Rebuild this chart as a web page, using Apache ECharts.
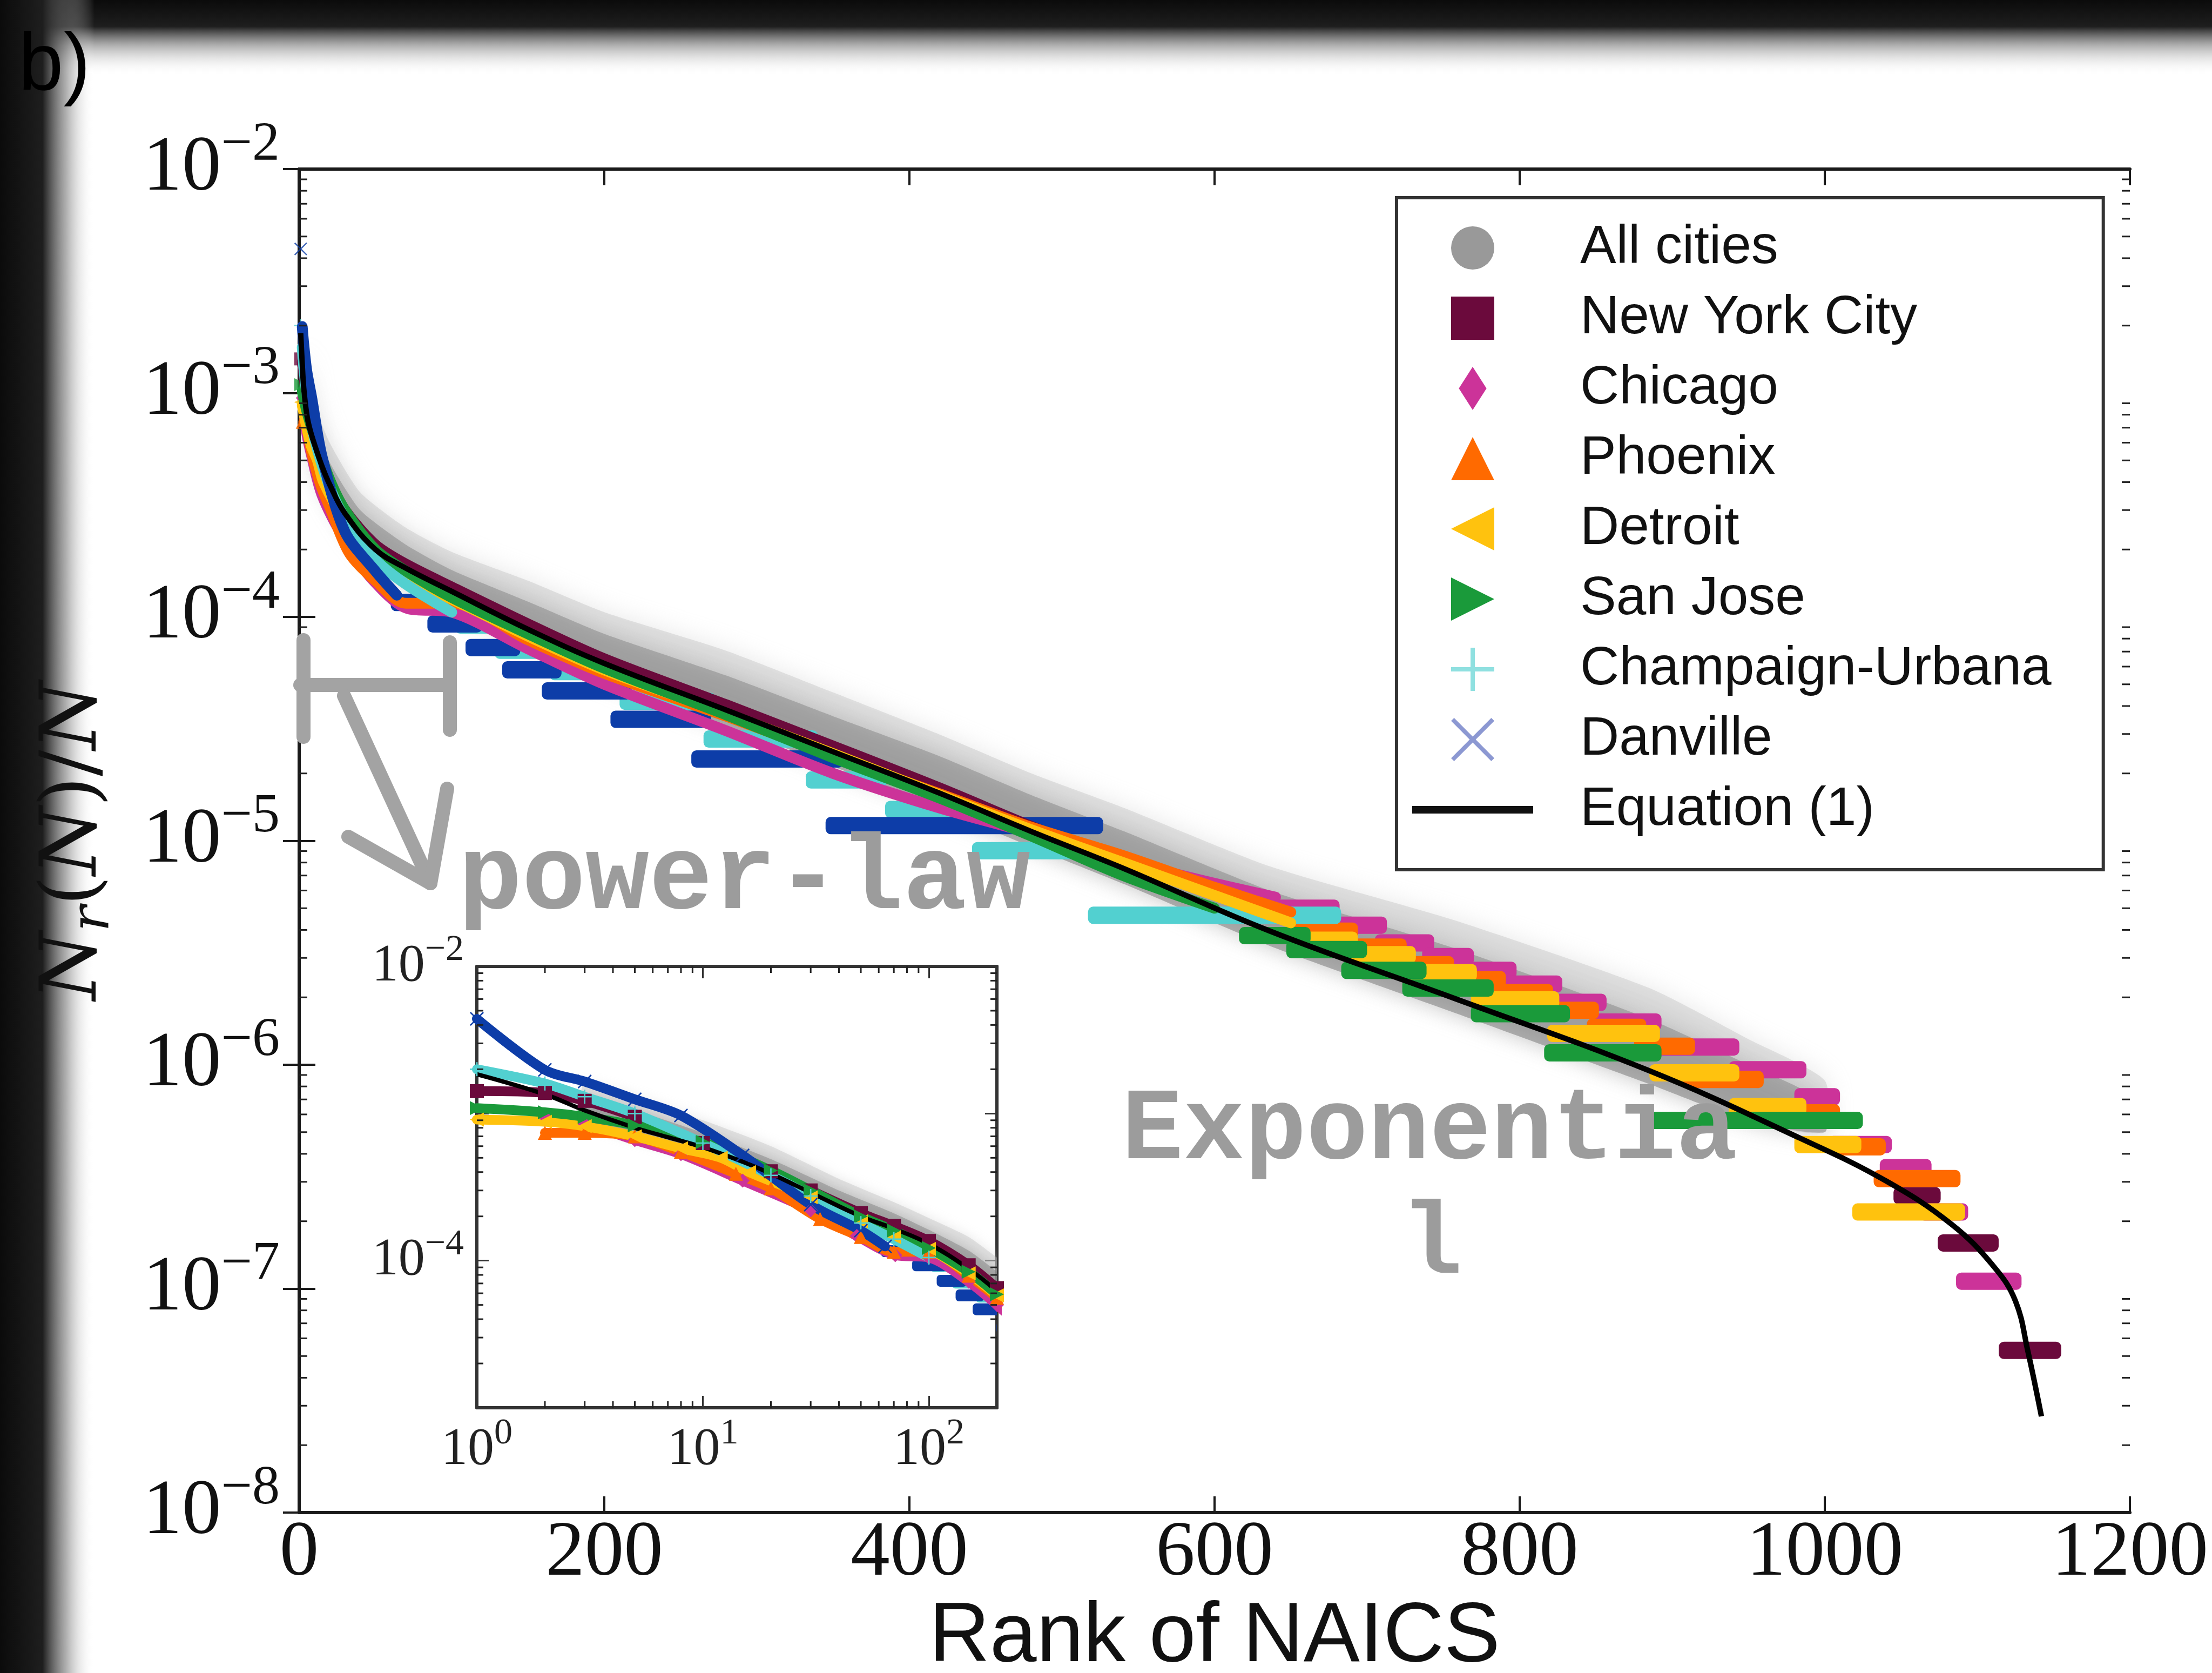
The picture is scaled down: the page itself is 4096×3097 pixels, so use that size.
<!DOCTYPE html>
<html>
<head>
<meta charset="utf-8">
<script src="https://cdn.jsdelivr.net/npm/echarts@6/dist/echarts.min.js"></script>
<style>
  html, body { margin: 0; padding: 0; background: #fff; }
  #chart { width: 4096px; height: 3097px; }
</style>
</head>
<body>
<div id="chart"></div>
<script>
// Equation (1)
var eqRank = [1, 2, 3, 5, 7, 10, 15, 20, 30, 50, 70, 100, 150, 200, 279, 350, 419, 480, 541, 636, 758, 885, 984, 1040, 1083, 1111, 1125, 1133, 1142];
var eqValue = [1.85e-3, 1.35e-3, 1.05e-3, 8.0e-4, 6.9e-4, 5.9e-4, 4.7e-4, 3.9e-4, 2.9e-4, 2.0e-4, 1.65e-4, 1.3e-4, 8.8e-5, 6.2e-5, 3.86e-5, 2.5e-5, 1.64e-5, 1.1e-5, 7.5e-6, 3.96e-6, 1.97e-6, 9.4e-7, 4.69e-7, 3.03e-7, 1.94e-7, 1.25e-7, 8.8e-8, 5.3e-8, 2.69e-8];

// "All cities" grey cloud: upper edge, dense core, lower edge
var cloudRank = [3, 10, 20, 40, 70, 100, 150, 200, 279, 350, 419, 480, 541, 636, 758, 885, 950, 1000];
var cloudHigh = [1.6e-3, 9.0e-4, 6.0e-4, 3.6e-4, 2.5e-4, 1.95e-4, 1.45e-4, 1.05e-4, 7.1e-5, 4.6e-5, 3.0e-5, 2.0e-5, 1.4e-5, 7.7e-6, 4.4e-6, 2.2e-6, 1.3e-6, 8.5e-7];
var cloudCore = [1.3e-3, 7.4e-4, 4.9e-4, 3.0e-4, 2.1e-4, 1.62e-4, 1.17e-4, 8.4e-5, 5.5e-5, 3.6e-5, 2.4e-5, 1.6e-5, 1.1e-5, 6.0e-6, 3.3e-6, 1.6e-6, 1.0e-6, 6.8e-7];
var cloudLow = [9.0e-4, 5.0e-4, 3.4e-4, 2.1e-4, 1.4e-4, 1.1e-4, 7.6e-5, 5.3e-5, 3.3e-5, 2.15e-5, 1.4e-5, 9.4e-6, 6.4e-6, 3.4e-6, 1.7e-6, 8.2e-7, 5.6e-7, 5.0e-7];

// each city: head (rank, value) where the value changes at nearly every rank, then runs [firstRank, lastRank, value]
var nycHeadRank = [1, 2, 3, 5, 10, 20, 30, 50, 70, 100, 150, 200, 280, 350, 420, 480, 540, 600];
var nycHeadValue = [1.42e-3, 1.38e-3, 1.22e-3, 9.5e-4, 6.3e-4, 4.05e-4, 3.0e-4, 2.1e-4, 1.72e-4, 1.36e-4, 9.3e-5, 6.5e-5, 4.05e-5, 2.65e-5, 1.72e-5, 1.16e-5, 8.0e-6, 5.8e-6];
var nycRuns = [[1049, 1072, 2.6e-7], [1078, 1110, 1.6e-7], [1118, 1151, 5.3e-8]];

var chicagoHeadRank = [2, 3, 5, 8, 15, 30, 48, 71, 100, 150, 200, 280, 350, 420, 480, 540, 590, 640];
var chicagoHeadValue = [9.5e-4, 8.5e-4, 6.6e-4, 5.3e-4, 3.5e-4, 2.2e-4, 1.47e-4, 1.09e-4, 1.05e-4, 7.2e-5, 5.0e-5, 3.1e-5, 2.0e-5, 1.4e-5, 1.08e-5, 8.2e-6, 6.7e-6, 5.6e-6];
var chicagoRuns = [[641, 678, 5.0e-6], [679, 709, 4.2e-6], [709, 740, 3.5e-6], [740, 766, 3.04e-6], [766, 794, 2.64e-6], [794, 824, 2.29e-6], [824, 853, 1.9e-6], [853, 889, 1.55e-6], [889, 940, 1.2e-6], [941, 984, 9.5e-7], [984, 1006, 7.2e-7], [1006, 1040, 4.4e-7], [1040, 1066, 3.47e-7], [1066, 1090, 2.2e-7], [1090, 1125, 1.08e-7]];

var phoenixHeadRank = [2, 3, 5, 8, 14, 20, 33, 50, 70, 100, 150, 200, 280, 350, 420, 480, 540, 600, 650];
var phoenixHeadValue = [7.4e-4, 7.4e-4, 7.0e-4, 5.5e-4, 3.9e-4, 3.1e-4, 1.92e-4, 1.45e-4, 1.15e-4, 1.15e-4, 7.9e-5, 5.6e-5, 3.6e-5, 2.4e-5, 1.62e-5, 1.15e-5, 8.6e-6, 6.2e-6, 4.8e-6];
var phoenixRuns = [[652, 690, 3.95e-6], [692, 722, 3.35e-6], [724, 753, 2.8e-6], [755, 787, 2.4e-6], [787, 818, 2.1e-6], [818, 848, 1.75e-6], [848, 879, 1.47e-6], [879, 911, 1.21e-6], [911, 956, 8.6e-7], [956, 1006, 6.1e-7], [1010, 1036, 4.3e-7], [1036, 1085, 3.1e-7]];

var detroitHeadRank = [1, 2, 3, 5, 8, 12, 16, 30, 50, 70, 100, 150, 200, 280, 350, 420, 480, 540, 600, 650];
var detroitHeadValue = [9.1e-4, 8.8e-4, 8.2e-4, 7.0e-4, 5.8e-4, 5.0e-4, 4.0e-4, 2.7e-4, 1.85e-4, 1.45e-4, 1.2e-4, 8.2e-5, 5.8e-5, 3.7e-5, 2.45e-5, 1.6e-5, 1.12e-5, 8.0e-6, 5.7e-6, 4.3e-6];
var detroitRuns = [[655, 690, 3.6e-6], [690, 728, 3.1e-6], [728, 768, 2.58e-6], [772, 822, 1.95e-6], [822, 888, 1.38e-6], [889, 940, 9.2e-7], [941, 984, 6.5e-7], [984, 1020, 4.4e-7], [1022, 1088, 2.2e-7]];

var sanJoseHeadRank = [1, 2, 3, 5, 10, 20, 30, 50, 70, 100, 150, 200, 280, 350, 420, 480, 540, 600];
var sanJoseHeadValue = [1.09e-3, 1.02e-3, 9.5e-4, 8.3e-4, 6.4e-4, 4.1e-4, 3.0e-4, 2.0e-4, 1.6e-4, 1.22e-4, 8.4e-5, 5.9e-5, 3.65e-5, 2.35e-5, 1.55e-5, 1.05e-5, 7.0e-6, 5.0e-6];
var sanJoseRuns = [[620, 659, 3.77e-6], [651, 696, 3.27e-6], [687, 735, 2.64e-6], [727, 779, 2.2e-6], [772, 829, 1.69e-6], [820, 889, 1.13e-6], [887, 1021, 5.64e-7]];

var champaignHeadRank = [1, 2, 3, 5, 10, 20, 30, 50, 70, 100];
var champaignHeadValue = [2.0e-3, 1.6e-3, 1.3e-3, 1.0e-3, 6.3e-4, 3.8e-4, 2.75e-4, 1.8e-4, 1.4e-4, 1.05e-4];
var champaignRuns = [[106, 134, 9.2e-5], [132, 166, 7.1e-5], [168, 214, 5.7e-5], [214, 269, 4.2e-5], [269, 336, 2.85e-5], [336, 381, 1.87e-5], [388, 447, 1.38e-5], [445, 523, 9.04e-6], [521, 679, 4.65e-6]];

var danvilleHeadRank = [1, 2, 3, 5, 8, 15, 30, 50, 64];
var danvilleHeadValue = [4.4e-3, 1.98e-3, 1.65e-3, 1.25e-3, 9.7e-4, 5.2e-4, 2.4e-4, 1.6e-4, 1.25e-4];
var danvilleRuns = [[64, 92, 1.16e-4], [88, 116, 9.3e-5], [113, 141, 7.3e-5], [137, 168, 5.8e-5], [163, 214, 4.67e-5], [208, 266, 3.49e-5], [261, 353, 2.32e-5], [349, 523, 1.17e-5]];

// ---- styling ----
var SQUARE = 'path://M0,0H100V100H0Z';
var TRIANGLE = 'path://M50,0L100,100L0,100Z';
var LEFT_TRI = 'path://M0,50L100,0L100,100Z';
var RIGHT_TRI = 'path://M0,0L100,50L0,100Z';
var PLUS = 'path://M45,0H55V45H100V55H55V100H45V55H0V45H45Z';
var CROSS = 'path://M0,7L7,0L50,43L93,0L100,7L57,50L100,93L93,100L50,57L7,100L0,93L43,50Z';
var DIAMOND = 'path://M32,0L64,50L32,100L0,50Z';

var cities = [
  { name: 'New York City', color: '#6b0a3c', symbol: SQUARE, head: [nycHeadRank, nycHeadValue], runs: nycRuns },
  { name: 'Chicago', color: '#cc3399', symbol: DIAMOND, head: [chicagoHeadRank, chicagoHeadValue], runs: chicagoRuns },
  { name: 'Phoenix', color: '#ff6a00', symbol: TRIANGLE, head: [phoenixHeadRank, phoenixHeadValue], runs: phoenixRuns },
  { name: 'Detroit', color: '#ffc20e', symbol: LEFT_TRI, head: [detroitHeadRank, detroitHeadValue], runs: detroitRuns },
  { name: 'San Jose', color: '#1a9a3a', symbol: RIGHT_TRI, head: [sanJoseHeadRank, sanJoseHeadValue], runs: sanJoseRuns },
  { name: 'Champaign-Urbana', color: '#52d0d0', symbol: PLUS, head: [champaignHeadRank, champaignHeadValue], runs: champaignRuns, inInset: true },
  { name: 'Danville', color: '#0d3da8', symbol: CROSS, head: [danvilleHeadRank, danvilleHeadValue], runs: danvilleRuns, inInset: true }
];

function pairs(r, v) {
  return r.map(function (x, i) { return [x, v[i]]; });
}

function powLabel(v) {
  var l = Math.log10(v);
  var e = Math.round(l);
  if (Math.abs(l - e) > 1e-6) return '';
  return '{b|10}{s|' + (e < 0 ? '\u2212' + (-e) : e) + '}';
}

function runItem(h) {
  return function (params, api) {
    var a = api.coord([api.value(0), api.value(2)]);
    var b = api.coord([api.value(1), api.value(2)]);
    return {
      type: 'rect',
      shape: { x: a[0] - h * 0.35, y: a[1] - h / 2, width: Math.max(b[0] - a[0], 0) + h * 0.7, height: h, r: h * 0.3 },
      style: { fill: api.visual('color') }
    };
  };
}

function cloudItem(blur) {
  return function (params, api) {
    if (params.dataIndex !== 0) return null;
    function band(hi, lo) {
      var pts = [];
      for (var i = 0; i < cloudRank.length; i++) pts.push(api.coord([cloudRank[i], hi[i]]));
      for (var j = cloudRank.length - 1; j >= 0; j--) pts.push(api.coord([cloudRank[j], lo[j]]));
      return pts;
    }
    return {
      type: 'group',
      children: [
        { type: 'polygon', shape: { points: band(cloudHigh, cloudLow), smooth: 0.2 },
          style: { fill: 'rgba(190,190,190,0.4)', shadowBlur: blur, shadowColor: 'rgba(190,190,190,0.9)' } },
        { type: 'polygon', shape: { points: band(cloudCore, cloudLow), smooth: 0.2 },
          style: { fill: 'rgba(125,125,125,0.45)', shadowBlur: blur * 0.8, shadowColor: 'rgba(125,125,125,0.7)' } }
      ]
    };
  };
}

function yMinorItem(len) {
  return function (params, api) {
    var cs = params.coordSys;
    var p = api.coord([api.value(0), api.value(1)]);
    var st = { stroke: '#222', lineWidth: 3 };
    return { type: 'group', children: [
      { type: 'line', shape: { x1: cs.x, y1: p[1], x2: cs.x + len, y2: p[1] }, style: st },
      { type: 'line', shape: { x1: cs.x + cs.width, y1: p[1], x2: cs.x + cs.width - len, y2: p[1] }, style: st }
    ] };
  };
}

function xMinorItem(len) {
  return function (params, api) {
    var cs = params.coordSys;
    var p = api.coord([api.value(0), api.value(1)]);
    var st = { stroke: '#222', lineWidth: 3 };
    return { type: 'group', children: [
      { type: 'line', shape: { x1: p[0], y1: cs.y + cs.height, x2: p[0], y2: cs.y + cs.height - len }, style: st },
      { type: 'line', shape: { x1: p[0], y1: cs.y, x2: p[0], y2: cs.y + len }, style: st }
    ] };
  };
}

// minor tick positions of the log axes (2..9 times each decade)
var mainYMinor = [], insetYMinor = [], insetXMinor = [];
for (var e = -8; e < -2; e++) for (var m = 2; m < 10; m++) mainYMinor.push([0, m * Math.pow(10, e)]);
for (var e2 = -5; e2 < -2; e2++) for (var m2 = 2; m2 < 10; m2++) insetYMinor.push([1, m2 * Math.pow(10, e2)]);
for (var e3 = 0; e3 < 2; e3++) for (var m3 = 2; m3 < 10; m3++) insetXMinor.push([m3 * Math.pow(10, e3), 1e-5]);

var serif = 'Liberation Serif';
var mainRich = {
  b: { fontFamily: serif, fontSize: 145, lineHeight: 190, color: '#111' },
  s: { fontFamily: serif, fontSize: 102, lineHeight: 102, verticalAlign: 'top', color: '#111' }
};
var insetRich = {
  b: { fontFamily: serif, fontSize: 98, lineHeight: 128, color: '#222' },
  s: { fontFamily: serif, fontSize: 68, lineHeight: 68, verticalAlign: 'top', color: '#222' }
};

var axisLine = { show: true, lineStyle: { color: '#1a1a1a', width: 6 } };
var majorTick = { show: true, inside: true, length: 30, lineStyle: { color: '#1a1a1a', width: 4 } };
var insetLine = { show: true, lineStyle: { color: '#333', width: 6 } };
var insetTick = { show: true, inside: true, length: 22, lineStyle: { color: '#333', width: 3 } };

var series = [];

series.push({ name: 'All cities', type: 'custom', xAxisIndex: 0, yAxisIndex: 0, clip: true,
  itemStyle: { color: '#9e9e9e' }, renderItem: cloudItem(45),
  data: pairs(cloudRank, cloudHigh), encode: { x: 0, y: 1 } });
series.push({ name: 'All cities', type: 'custom', xAxisIndex: 2, yAxisIndex: 2, clip: true,
  itemStyle: { color: '#9e9e9e' }, renderItem: cloudItem(22),
  data: pairs(cloudRank, cloudHigh), encode: { x: 0, y: 1 } });

cities.forEach(function (c) {
  var head = pairs(c.head[0], c.head[1]);
  series.push({ name: c.name, type: 'custom', xAxisIndex: 0, yAxisIndex: 0, clip: true,
    itemStyle: { color: c.color }, renderItem: runItem(32),
    data: c.runs, encode: { x: [0, 1], y: 2 } });
  // first rank drawn as a lone marker, the rest as a dense band of markers
  series.push({ name: c.name, type: 'scatter', xAxisIndex: 0, yAxisIndex: 0,
    data: head.slice(0, 1), symbol: c.symbol, symbolSize: 24, itemStyle: { color: c.color } });
  series.push({ name: c.name, type: 'line', xAxisIndex: 0, yAxisIndex: 0,
    data: head.slice(1), showSymbol: false, smooth: 0.3,
    itemStyle: { color: c.color }, lineStyle: { color: c.color, width: 20, cap: 'round', join: 'round' } });
  if (c.inInset) {
    series.push({ name: c.name, type: 'custom', xAxisIndex: 2, yAxisIndex: 2, clip: true,
      itemStyle: { color: c.color }, renderItem: runItem(22),
      data: c.runs, encode: { x: [0, 1], y: 2 } });
  }
  series.push({ name: c.name, type: 'line', xAxisIndex: 2, yAxisIndex: 2,
    data: head, showSymbol: true, symbol: c.symbol, symbolSize: 26, smooth: 0.3,
    itemStyle: { color: c.color }, lineStyle: { color: c.color, width: 18, cap: 'round', join: 'round' } });
});

series.push({ name: 'Equation (1)', type: 'line', xAxisIndex: 0, yAxisIndex: 0,
  data: pairs(eqRank, eqValue), showSymbol: false, smooth: 0.4,
  itemStyle: { color: '#000' }, lineStyle: { color: '#000', width: 10 } });
series.push({ name: 'Equation (1)', type: 'line', xAxisIndex: 2, yAxisIndex: 2,
  data: pairs(eqRank, eqValue), showSymbol: false, smooth: 0.4,
  itemStyle: { color: '#000' }, lineStyle: { color: '#000', width: 8 } });

series.push({ name: '_ticks', type: 'custom', xAxisIndex: 0, yAxisIndex: 0, z: 5,
  renderItem: yMinorItem(15), data: mainYMinor, encode: { x: 0, y: 1 } });
series.push({ name: '_ticks', type: 'custom', xAxisIndex: 2, yAxisIndex: 2, z: 5,
  renderItem: yMinorItem(12), data: insetYMinor, encode: { x: 0, y: 1 } });
series.push({ name: '_ticks', type: 'custom', xAxisIndex: 2, yAxisIndex: 2, z: 5,
  renderItem: xMinorItem(12), data: insetXMinor, encode: { x: 0, y: 1 } });

var legendNames = [
  { name: 'All cities', icon: 'circle', itemStyle: { color: '#999999' } },
  { name: 'New York City', icon: SQUARE, itemStyle: { color: '#6b0a3c' } },
  { name: 'Chicago', icon: DIAMOND, itemStyle: { color: '#cc3399' } },
  { name: 'Phoenix', icon: TRIANGLE, itemStyle: { color: '#ff6a00' } },
  { name: 'Detroit', icon: LEFT_TRI, itemStyle: { color: '#ffc20e' } },
  { name: 'San Jose', icon: RIGHT_TRI, itemStyle: { color: '#1a9a3a' } },
  { name: 'Champaign-Urbana', icon: PLUS, itemStyle: { color: '#8fe0e0' } },
  { name: 'Danville', icon: CROSS, itemStyle: { color: '#8c98d2' } },
  { name: 'Equation (1)', icon: 'path://M0,0H224V14H0Z', itemStyle: { color: '#111' } }
];

var gray = '#9c9c9c';
var annStroke = { stroke: '#a3a3a3', lineWidth: 26, lineCap: 'round', lineJoin: 'round' };

var option = {
  backgroundColor: '#ffffff',
  animation: false,
  grid: [
    { left: 554, top: 313, width: 3390, height: 2487, show: false, outerBoundsMode: 'none', containLabel: false },
    { left: 883, top: 1789, width: 963, height: 817, show: true, backgroundColor: '#ffffff', borderWidth: 0, outerBoundsMode: 'none', containLabel: false }
  ],
  xAxis: [
    { gridIndex: 0, type: 'value', min: 0, max: 1200, interval: 200, position: 'bottom',
      axisLine: axisLine, axisTick: majorTick, splitLine: { show: false },
      axisLabel: { fontFamily: serif, fontSize: 145, color: '#111', margin: 4,
        formatter: function (v) { return String(v); } },
      name: 'Rank of NAICS', nameLocation: 'middle', nameGap: 142,
      nameTextStyle: { fontFamily: 'Liberation Sans', fontSize: 156, color: '#111' } },
    { gridIndex: 0, type: 'value', min: 0, max: 1200, interval: 200, position: 'top',
      axisLine: axisLine, axisTick: majorTick, splitLine: { show: false }, axisLabel: { show: false } },
    { gridIndex: 1, type: 'log', min: 1, max: 200, splitNumber: 2, position: 'bottom',
      axisLine: insetLine, axisTick: insetTick, splitLine: { show: false },
      axisLabel: { formatter: powLabel, rich: insetRich, margin: 14 } },
    { gridIndex: 1, type: 'log', min: 1, max: 200, splitNumber: 2, position: 'top',
      axisLine: insetLine, axisTick: insetTick, splitLine: { show: false }, axisLabel: { show: false } }
  ],
  yAxis: [
    { gridIndex: 0, type: 'log', min: 1e-8, max: 1e-2, splitNumber: 6, position: 'left',
      axisLine: axisLine, axisTick: majorTick, splitLine: { show: false },
      axisLabel: { formatter: powLabel, rich: mainRich, margin: 36 },
      name: '{i|N}{r|r}{u|(}{i|N}{u|)/}{i|N}', nameLocation: 'middle', nameGap: 330, nameRotate: 90,
      nameTextStyle: { rich: {
        i: { fontFamily: 'DejaVu Serif', fontStyle: 'italic', fontSize: 145, lineHeight: 170, color: '#111' },
        u: { fontFamily: 'DejaVu Serif', fontSize: 145, lineHeight: 170, color: '#111' },
        r: { fontFamily: 'DejaVu Serif', fontStyle: 'italic', fontSize: 100, lineHeight: 100, verticalAlign: 'bottom', color: '#111' }
      } } },
    { gridIndex: 0, type: 'log', min: 1e-8, max: 1e-2, splitNumber: 6, position: 'right',
      axisLine: axisLine, axisTick: majorTick, splitLine: { show: false }, axisLabel: { show: false } },
    { gridIndex: 1, type: 'log', min: 1e-5, max: 1e-2, splitNumber: 3, position: 'left',
      axisLine: insetLine, axisTick: insetTick, splitLine: { show: false },
      axisLabel: { formatter: function (v) {
        var e = Math.round(Math.log10(v));
        return (e === -2 || e === -4) ? powLabel(v) : '';
      }, rich: insetRich, margin: 24 } },
    { gridIndex: 1, type: 'log', min: 1e-5, max: 1e-2, splitNumber: 3, position: 'right',
      axisLine: insetLine, axisTick: insetTick, splitLine: { show: false }, axisLabel: { show: false } }
  ],
  legend: {
    orient: 'vertical', left: 2586, top: 366,
    padding: [43, 96, 61, 29], itemGap: 30, itemWidth: 224, itemHeight: 80,
    backgroundColor: '#ffffff', borderColor: '#333', borderWidth: 6,
    selectedMode: false,
    textStyle: { fontFamily: 'Liberation Sans', fontSize: 100, color: '#111', padding: [0, 0, 0, 82] },
    data: legendNames
  },
  graphic: [
    { type: 'rect', z: -10, shape: { x: 0, y: 0, width: 4096, height: 140 },
      style: { fill: { type: 'linear', x: 0, y: 0, x2: 0, y2: 1, colorStops: [
        { offset: 0, color: '#0b0b0b' }, { offset: 0.35, color: '#1e1e1e' },
        { offset: 0.6, color: 'rgba(110,110,110,0.55)' }, { offset: 1, color: 'rgba(255,255,255,0)' } ] } } },
    { type: 'rect', z: -10, shape: { x: 0, y: 0, width: 175, height: 3097 },
      style: { fill: { type: 'linear', x: 0, y: 0, x2: 1, y2: 0, colorStops: [
        { offset: 0, color: '#0b0b0b' }, { offset: 0.45, color: '#1e1e1e' },
        { offset: 0.7, color: 'rgba(110,110,110,0.55)' }, { offset: 1, color: 'rgba(255,255,255,0)' } ] } } },
    { type: 'text', z: 20, x: 34, y: 50,
      style: { text: 'b)', fontFamily: 'Liberation Sans', fontSize: 150, fill: '#000', verticalAlign: 'top' } },
    { type: 'polyline', z: 20, shape: { points: [[562, 1185], [562, 1364]] }, style: annStroke },
    { type: 'polyline', z: 20, shape: { points: [[556, 1268], [833, 1268]] }, style: annStroke },
    { type: 'polyline', z: 20, shape: { points: [[833, 1189], [833, 1351]] }, style: annStroke },
    { type: 'polyline', z: 20, shape: { points: [[637, 1288], [797, 1635]] }, style: annStroke },
    { type: 'polyline', z: 20, shape: { points: [[645, 1549], [797, 1635], [828, 1460]] }, style: annStroke },
    { type: 'text', z: 20, x: 849, y: 1632,
      style: { text: 'power-law', fontFamily: 'Liberation Mono', fontWeight: 'bold', fontSize: 196, fill: gray, verticalAlign: 'middle' } },
    { type: 'text', z: 20, x: 2077, y: 2096,
      style: { text: 'Exponentia', fontFamily: 'Liberation Mono', fontWeight: 'bold', fontSize: 190, fill: gray, verticalAlign: 'middle' } },
    { type: 'text', z: 20, x: 2651, y: 2308,
      style: { text: 'l', fontFamily: 'Liberation Mono', fontWeight: 'bold', fontSize: 190, fill: gray, align: 'center', verticalAlign: 'middle' } }
  ],
  series: series
};

var chart = echarts.init(document.getElementById('chart'));
chart.setOption(option);
</script>
</body>
</html>
